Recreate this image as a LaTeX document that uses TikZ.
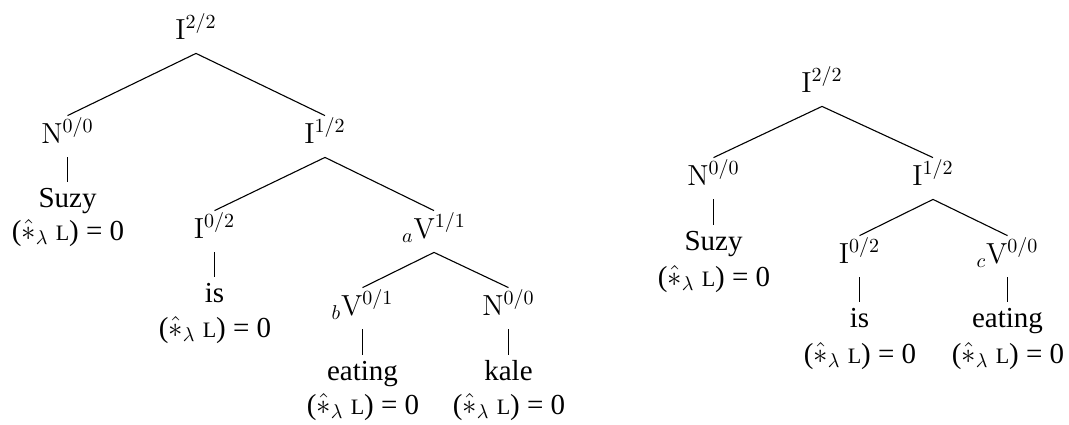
\documentclass[tikz,border=0pt]{standalone}
\usepackage{fontspec}
\newfontfamily\tms{Liberation Serif}
\newcommand{\fmlval}{($\hat{\ast}_{\lambda}$ {\fontsize{11}{12}\selectfont L}) = 0}
\begin{document}
\begin{tikzpicture}[x=0.5pt,y=-0.5pt,
  lab/.style={anchor=base,inner sep=0pt,text height=13.5pt,text depth=7pt,font=\tms\fontsize{14.5}{17}\selectfont},
  word/.style={anchor=base,inner sep=0pt,text height=12.5pt,text depth=2pt,font=\tms\fontsize{14.5}{17}\selectfont},
  val/.style={anchor=base,inner sep=0pt,font=\tms\fontsize{14.5}{17}\selectfont},
  edge/.style={line width=0.55pt}]
\useasboundingbox (0,0) rectangle (1069,424);
% left tree
\node[lab] (l0) at (196,39) {$\mathrm{I}^{2/2}$};
\node[lab] (l1) at (67.5,143) {$\mathrm{N}^{0/0}$};
\node[word] (l1w) at (67.5,207) {Suzy};
\node[val] (l1v) at (68,240) {\fmlval};
\node[lab] (l2) at (325,143) {$\mathrm{I}^{1/2}$};
\node[lab] (l3) at (214.5,238) {$\mathrm{I}^{0/2}$};
\node[word] (l3w) at (214.5,302) {is};
\node[val] (l3v) at (215,337) {\fmlval};
\node[lab] (l4) at (434,238) {${}_{a}\mathrm{V}^{1/1}$};
\node[lab] (l5) at (362.5,315) {${}_{b}\mathrm{V}^{0/1}$};
\node[word] (l5w) at (362.5,380) {eating};
\node[val] (l5v) at (363,414) {\fmlval};
\node[lab] (l6) at (508.5,315) {$\mathrm{N}^{0/0}$};
\node[word] (l6w) at (508.5,380) {kale};
\node[val] (l6v) at (509,414) {\fmlval};
\draw[edge] (l1.north) -- (l0.south) -- (l2.north);
\draw[edge] (l1.south) -- (l1w.north);
\draw[edge] (l3.north) -- (l2.south) -- (l4.north);
\draw[edge] (l3.south) -- (l3w.north);
\draw[edge] (l5.north) -- (l4.south) -- (l6.north);
\draw[edge] (l5.south) -- (l5w.north);
\draw[edge] (l6.south) -- (l6w.north);
% right tree
\node[lab] (r0) at (822,92) {$\mathrm{I}^{2/2}$};
\node[lab] (r1) at (713.5,185) {$\mathrm{N}^{0/0}$};
\node[word] (r1w) at (713.5,250) {Suzy};
\node[val] (r1v) at (714,286) {\fmlval};
\node[lab] (r2) at (933,185) {$\mathrm{I}^{1/2}$};
\node[lab] (r3) at (859.5,263) {$\mathrm{I}^{0/2}$};
\node[word] (r3w) at (859.5,327) {is};
\node[val] (r3v) at (860,363) {\fmlval};
\node[lab] (r4) at (1007.5,263) {${}_{c}\mathrm{V}^{0/0}$};
\node[word] (r4w) at (1007.5,327) {eating};
\node[val] (r4v) at (1008,363) {\fmlval};
\draw[edge] (r1.north) -- (r0.south) -- (r2.north);
\draw[edge] (r1.south) -- (r1w.north);
\draw[edge] (r3.north) -- (r2.south) -- (r4.north);
\draw[edge] (r3.south) -- (r3w.north);
\draw[edge] (r4.south) -- (r4w.north);
\end{tikzpicture}
\end{document}
